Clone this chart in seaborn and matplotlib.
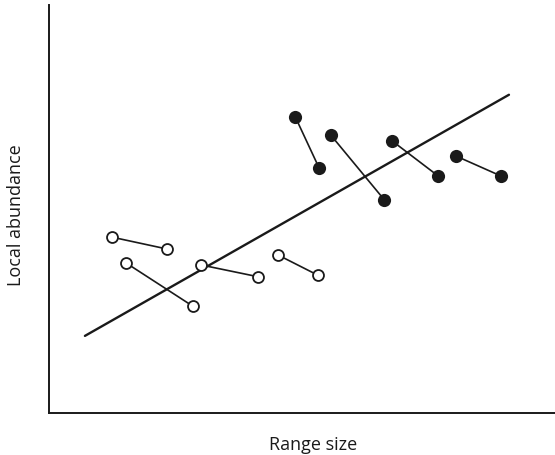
import matplotlib
matplotlib.use("Agg")
import matplotlib.pyplot as plt
import seaborn as sns
import pandas as pd

# Open-circle species pairs (x = range size, y = local abundance)
open_x1 = [12.45, 15.2, 30.0, 45.3]
open_y1 = [43.1, 36.8, 36.3, 38.7]
open_x2 = [23.3, 28.4, 41.3, 53.1]
open_y2 = [40.2, 26.2, 33.4, 33.8]

# Filled-circle species pairs
filled_x1 = [48.7, 55.7, 67.8, 80.4]
filled_y1 = [72.5, 68.1, 66.7, 63.0]
filled_x2 = [53.4, 66.3, 76.9, 89.3]
filled_y2 = [60.0, 52.2, 58.1, 58.1]

# Overall regression line end points
reg_x = [7.1, 90.9]
reg_y = [18.9, 78.0]

x_label = "Range size"
y_label = "Local abundance"

sns.set_theme(style="white")
plt.rcParams['font.family'] = ['Open Sans', 'DejaVu Sans']

rows = []
pid = 0
for kind, xs1, ys1, xs2, ys2 in [("open", open_x1, open_y1, open_x2, open_y2),
                                  ("filled", filled_x1, filled_y1, filled_x2, filled_y2)]:
    for a, b, c, d in zip(xs1, ys1, xs2, ys2):
        rows.append(dict(pair=pid, kind=kind, x=a, y=b))
        rows.append(dict(pair=pid, kind=kind, x=c, y=d))
        pid += 1
df = pd.DataFrame(rows)
reg = pd.DataFrame(dict(x=reg_x, y=reg_y))

fig = plt.figure(figsize=(5.55, 4.56), dpi=100)
ax = fig.add_axes([49/555, 42/456, 1 - 49/555, 408/456])

sns.lineplot(data=reg, x="x", y="y", ax=ax, color="#1a1a1a", lw=1.7, estimator=None, sort=False)
sns.lineplot(data=df, x="x", y="y", units="pair", estimator=None, sort=False,
             color="#1a1a1a", lw=1.2, ax=ax)
op = df[df.kind == "open"]
fi = df[df.kind == "filled"]
sns.scatterplot(data=op, x="x", y="y", ax=ax, s=62, facecolor="white",
                edgecolor="#1a1a1a", linewidth=1.3, zorder=5)
sns.scatterplot(data=fi, x="x", y="y", ax=ax, s=90, color="#1a1a1a",
                edgecolor="#1a1a1a", linewidth=0, zorder=5)

ax.set_xlim(0, 100)
ax.set_ylim(0, 100)
ax.set_xticks([])
ax.set_yticks([])
for s in ["top", "right"]:
    ax.spines[s].set_visible(False)
for s in ["left", "bottom"]:
    ax.spines[s].set_color("#1a1a1a")
    ax.spines[s].set_linewidth(1.4)
ax.set_xlabel(x_label, fontsize=13, color="#1a1a1a")
ax.set_ylabel(y_label, fontsize=13, color="#1a1a1a")
ax.xaxis.set_label_coords((313 - 49) / 506, (414 - 445) / 408)
ax.yaxis.set_label_coords((16 - 49) / 506, (414 - 215) / 408)
ax.xaxis.label.set_verticalalignment("center")
ax.yaxis.label.set_verticalalignment("center")

fig.savefig("out.png", dpi=100)
